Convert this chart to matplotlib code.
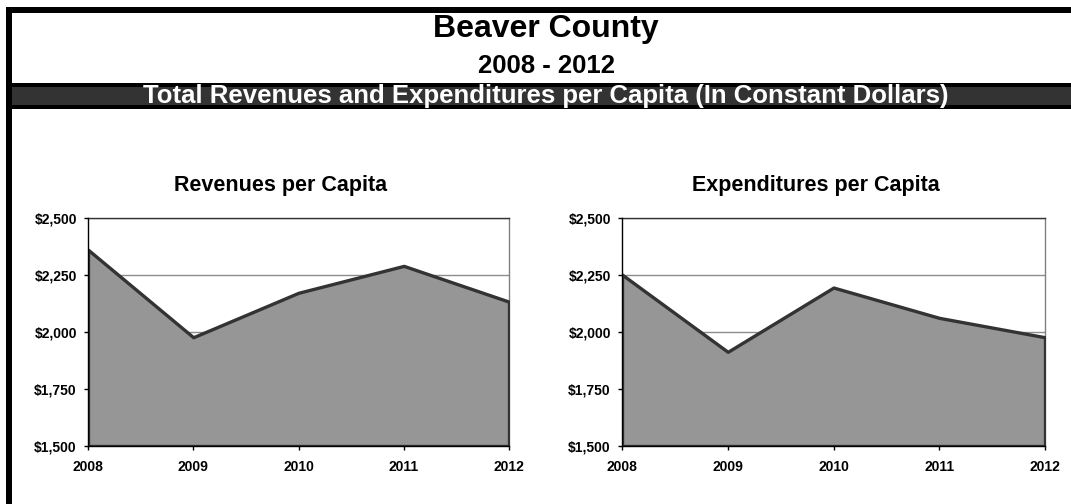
import matplotlib
matplotlib.use('Agg')
import matplotlib.pyplot as plt
from matplotlib.patches import Rectangle
from matplotlib.ticker import FuncFormatter

# values
years = ['2008', '2009', '2010', '2011', '2012']
revenues = [2361, 1977, 2172, 2290, 2133]
expenditures = [2252, 1913, 2195, 2062, 1977]
yticks = [1500, 1750, 2000, 2250, 2500]

plt.rcParams['font.family'] = ['Liberation Sans', 'DejaVu Sans']
plt.rcParams['font.weight'] = 'bold'

W, H = 1071, 504
fig = plt.figure(figsize=(W / 100, H / 100), dpi=100)
fig.patch.set_facecolor('white')

# frame and header band drawn in pixel coordinates
bg = fig.add_axes([0, 0, 1, 1])
bg.set_xlim(0, W)
bg.set_ylim(H, 0)
bg.axis('off')
bg.add_patch(Rectangle((6, 7), W, 6, color='black', lw=0))
bg.add_patch(Rectangle((6, 7), 6, H, color='black', lw=0))
bg.add_patch(Rectangle((6, 83), W, 26, color='black', lw=0))
bg.add_patch(Rectangle((12, 87), W, 18, color='#333333', lw=0))

bg.text(546, 29, 'Beaver County', ha='center', va='center', fontsize=23, fontweight='bold')
bg.text(546, 66, '2008 - 2012', ha='center', va='center', fontsize=18.5, fontweight='bold')
bg.text(546, 96, 'Total Revenues and Expenditures per Capita (In Constant Dollars)',
        ha='center', va='center', fontsize=18.5, fontweight='bold', color='white')

money = FuncFormatter(lambda v, p: '${:,.0f}'.format(v))


def draw_panel(rect, values, title, title_x):
    ax = fig.add_axes(rect)
    x = list(range(len(years)))
    ax.fill_between(x, values, yticks[0], facecolor='#969696', edgecolor='#333333',
                    linewidth=2.4, zorder=3)
    ax.set_xlim(0, len(years) - 1)
    ax.set_ylim(yticks[0], yticks[-1])
    ax.set_xticks(x)
    ax.set_xticklabels(years)
    ax.set_yticks(yticks)
    ax.yaxis.set_major_formatter(money)
    ax.grid(axis='y', color='#8c8c8c', linewidth=1, zorder=1)
    ax.set_axisbelow(True)
    ax.tick_params(direction='out', length=3, width=1, labelsize=10, pad=5, color='black')
    ax.tick_params(axis='x', pad=7)
    for lab in ax.get_xticklabels() + ax.get_yticklabels():
        lab.set_fontweight('bold')
    ax.spines['left'].set_color('black')
    ax.spines['bottom'].set_color('black')
    ax.spines['top'].set_color('#333333')
    ax.spines['right'].set_color('#808080')
    for s in ax.spines.values():
        s.set_linewidth(1)
    ax.spines['left'].set_zorder(4)
    ax.spines['bottom'].set_zorder(4)
    fig.text(title_x / W, 1 - 185 / H, title, ha='center', va='center',
             fontsize=15.5, fontweight='bold')
    return ax


draw_panel([88 / W, 58 / H, 421 / W, 228 / H], revenues, 'Revenues per Capita', 281)
draw_panel([622 / W, 58 / H, 423 / W, 228 / H], expenditures, 'Expenditures per Capita', 816)

fig.savefig('out.png', dpi=100, facecolor='white')
